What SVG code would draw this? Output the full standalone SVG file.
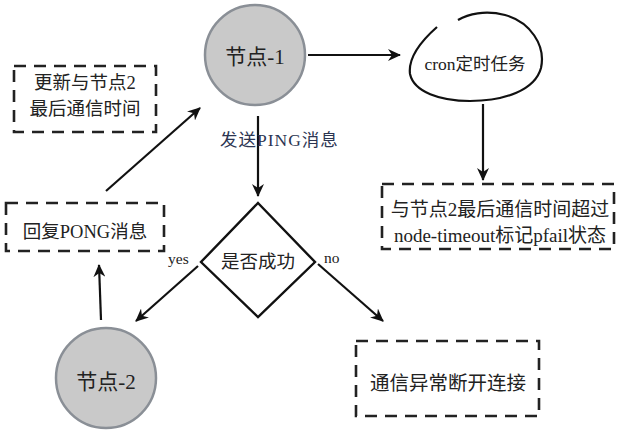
<svg xmlns="http://www.w3.org/2000/svg" width="621" height="440" viewBox="0 0 621 440">
<style>
.t{font-family:"Liberation Serif","Noto Sans CJK SC",serif;fill:#222;}
.node{fill:#c9c9c9;stroke:#8a8f96;stroke-width:2.5;}
.dash{fill:none;stroke:#222;stroke-width:2.6;stroke-dasharray:12 8;}
.edge{stroke:#111;stroke-width:2.2;fill:none;marker-end:url(#ah);}
</style>
<defs>
<marker id="ah" markerWidth="14" markerHeight="12" refX="12" refY="6" orient="auto" markerUnits="userSpaceOnUse">
<path d="M0,0 L13,6 L0,12 L4,6 Z" fill="#111"/>
</marker>
</defs>
<rect width="621" height="440" fill="#fff"/>
<g id="connectors">
<line class="edge" x1="308" y1="55" x2="400" y2="55"/>
<line class="edge" x1="483" y1="104" x2="483" y2="180"/>
<line class="edge" x1="258" y1="116" x2="258" y2="196"/>
<line class="edge" x1="198" y1="266" x2="136" y2="321"/>
<line class="edge" x1="318" y1="264" x2="383" y2="321"/>
<line class="edge" x1="101" y1="320" x2="99" y2="265"/>
<line class="edge" x1="106" y1="191" x2="200" y2="108"/>
<text class="t" x="220" y="146" font-size="17.5" letter-spacing="1" style="fill:#2c3552">发送PING消息</text>
<text class="t" x="168" y="264" font-size="15.5">yes</text>
<text class="t" x="324" y="263" font-size="15.5">no</text>
</g>
<g id="node1">
<circle class="node" cx="255" cy="55" r="50"/>
<text class="t" x="255" y="64" font-size="21" text-anchor="middle">节点-1</text>
</g>
<g id="cron">
<path d="M437,27 C420,42 408,58 410,74 C414,92 440,101 470,101 C505,101 535,90 541,68 C546,45 530,22 505,15 C485,10 468,14 458,20" fill="none" stroke="#111" stroke-width="2.2"/>
<text class="t" x="475" y="70" font-size="17.5" text-anchor="middle">cron定时任务</text>
</g>
<g id="pfail">
<rect class="dash" x="382" y="184" width="232" height="65"/>
<text class="t" x="500" y="216" font-size="19" text-anchor="middle">与节点2最后通信时间超过</text>
<text class="t" x="500" y="242" font-size="19" text-anchor="middle">node-timeout标记pfail状态</text>
</g>
<g id="update">
<rect class="dash" x="14" y="66" width="142" height="66"/>
<text class="t" x="85" y="89" font-size="18.5" text-anchor="middle">更新与节点2</text>
<text class="t" x="85" y="115" font-size="18.5" text-anchor="middle">最后通信时间</text>
</g>
<g id="decision">
<polygon points="258,203 315,262 258,317 201,262" fill="#fff" stroke="#111" stroke-width="2.4"/>
<text class="t" x="258" y="268" font-size="18.5" text-anchor="middle">是否成功</text>
</g>
<g id="pong">
<rect class="dash" x="6" y="203" width="158" height="48"/>
<text class="t" x="85" y="238" font-size="18.5" text-anchor="middle">回复PONG消息</text>
</g>
<g id="node2">
<circle class="node" cx="106" cy="378" r="50"/>
<text class="t" x="106" y="389" font-size="21" text-anchor="middle">节点-2</text>
</g>
<g id="fail">
<rect class="dash" x="356" y="341" width="183" height="75"/>
<text class="t" x="448" y="390" font-size="19.5" text-anchor="middle">通信异常断开连接</text>
</g>
</svg>
